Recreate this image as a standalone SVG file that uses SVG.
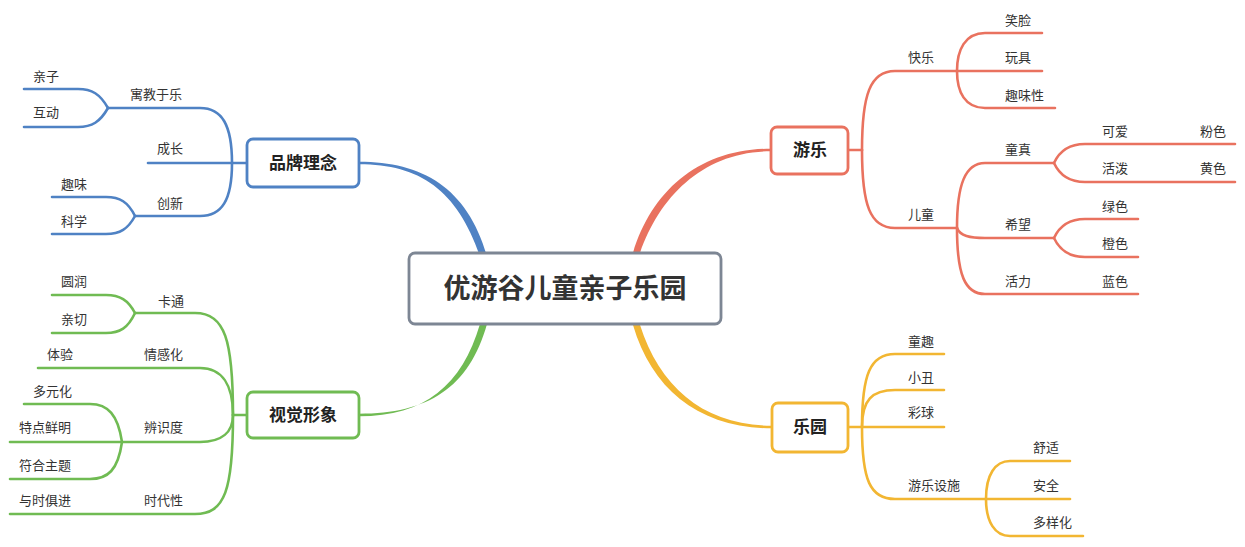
<svg xmlns="http://www.w3.org/2000/svg" width="1245" height="547" viewBox="0 0 1245 547">
<style>
.t{font-family:"Noto Sans CJK SC","Noto Sans",sans-serif;font-size:13px;fill:#333}
.nt{font-family:"Noto Sans CJK SC","Noto Sans",sans-serif;font-size:17px;font-weight:bold;fill:#222;text-anchor:middle}
.ct{font-family:"Noto Sans CJK SC","Noto Sans",sans-serif;font-size:27px;font-weight:bold;fill:#333;text-anchor:middle}
.l{fill:none;stroke-width:2.6;stroke-linecap:round}
.b{stroke:#4f82c4}.g{stroke:#70bb53}.r{stroke:#e9725f}.y{stroke:#f2b632}
.box{fill:#fff;stroke-width:2.8}
</style>
<rect width="1245" height="547" fill="#fff"/>
<g id="connectors">
<path d="M480,256 C457,190 420,164.3 359,164.3 L359,161.7 C422,161.7 467,187 487,256 Z" fill="#4f82c4"/>
<path d="M480,324 C462,385 425,416.3 359,416.3 L359,413.7 C428,413.7 469,388 487,324 Z" fill="#70bb53"/>
<path d="M633,253 C652,190 700,148.7 771,148.7 L771,151.3 C705,151.3 660,195 640,253 Z" fill="#e9725f"/>
<path d="M633,325 C652,390 700,428.3 772,428.3 L772,425.7 C705,425.7 660,388 640,325 Z" fill="#f2b632"/>
<g class="l b">
<path d="M247,163 H232"/>
<path d="M232,163 C232,125 222,108 200,108 H108"/>
<path d="M232,163 H148"/>
<path d="M232,163 C232,200 222,216 200,216 H135"/>
<path d="M108,108 C100,94 92,89 78,89 H24"/>
<path d="M108,108 C100,122 92,127 78,127 H24"/>
<path d="M135,216 C128,202 120,197 106,197 H52"/>
<path d="M135,216 C128,229 120,234 106,234 H52"/>
</g>
<g class="l g">
<path d="M247,415 H233"/>
<path d="M233,415 C233,340 225,313 195,313 H135"/>
<path d="M233,415 C233,385 222,368 200,368 H38"/>
<path d="M233,415 C233,432 222,442 200,442 H122"/>
<path d="M233,415 C233,490 225,514 195,514 H10"/>
<path d="M135,313 C128,300 120,295 106,295 H52"/>
<path d="M135,313 C128,328 120,333 106,333 H52"/>
<path d="M122,442 C118,415 108,404 90,404 H24"/>
<path d="M122,442 H10"/>
<path d="M122,442 C118,470 108,479 90,479 H10"/>
</g>
<g class="l r">
<path d="M848,150 H862"/>
<path d="M862,150 C862,95 870,71 895,71 H957"/>
<path d="M862,150 C862,205 870,228 895,228 H957"/>
<path d="M957,71 C957,50 965,33 985,33 H1042"/>
<path d="M957,71 H1042"/>
<path d="M957,71 C957,92 965,108 985,108 H1055"/>
<path d="M957,228 C957,185 965,163 985,163 H1054"/>
<path d="M957,228 C960,236 970,238 985,238 H1054"/>
<path d="M957,228 C957,275 965,294 985,294 H1138"/>
<path d="M1054,163 C1060,150 1070,144 1085,144 H1235"/>
<path d="M1054,163 C1060,176 1070,182 1085,182 H1235"/>
<path d="M1054,238 C1060,225 1070,219 1085,219 H1138"/>
<path d="M1054,238 C1060,251 1070,257 1085,257 H1138"/>
</g>
<g class="l y">
<path d="M848,427 H862"/>
<path d="M862,427 C862,375 870,354 895,354 H944"/>
<path d="M862,427 C862,400 872,390 895,390 H944"/>
<path d="M862,427 H944"/>
<path d="M862,427 C862,480 870,499 895,499 H986"/>
<path d="M986,499 C986,475 995,461 1010,461 H1070"/>
<path d="M986,499 H1070"/>
<path d="M986,499 C986,522 995,536 1010,536 H1083"/>
</g>
</g>
<g id="center"><rect x="409" y="253" width="312" height="71" rx="6" fill="#fff" stroke="#7d8694" stroke-width="2.8"/><text class="ct" x="565" y="298">优游谷儿童亲子乐园</text></g>
<g id="n-pinpai"><rect class="box b" x="247" y="139" width="112" height="48" rx="6"/><text class="nt" x="303" y="169">品牌理念</text></g>
<g id="n-shijue"><rect class="box g" x="247" y="392" width="112" height="46" rx="6"/><text class="nt" x="303" y="421">视觉形象</text></g>
<g id="n-youle"><rect class="box r" x="771" y="127" width="77" height="47" rx="6"/><text class="nt" x="810" y="156">游乐</text></g>
<g id="n-leyuan"><rect class="box y" x="772" y="403" width="76" height="49" rx="6"/><text class="nt" x="810" y="433">乐园</text></g>
<g id="labels-blue">
<text class="t" x="33" y="81">亲子</text>
<text class="t" x="33" y="117">互动</text>
<text class="t" x="130" y="99">寓教于乐</text>
<text class="t" x="157" y="153">成长</text>
<text class="t" x="61" y="189">趣味</text>
<text class="t" x="157" y="208">创新</text>
<text class="t" x="61" y="226">科学</text>
</g>
<g id="labels-green">
<text class="t" x="61" y="286">圆润</text>
<text class="t" x="158" y="306">卡通</text>
<text class="t" x="61" y="324">亲切</text>
<text class="t" x="47" y="359">体验</text>
<text class="t" x="144" y="359">情感化</text>
<text class="t" x="33" y="396">多元化</text>
<text class="t" x="19" y="432">特点鲜明</text>
<text class="t" x="144" y="432">辨识度</text>
<text class="t" x="19" y="470">符合主题</text>
<text class="t" x="19" y="505">与时俱进</text>
<text class="t" x="144" y="505">时代性</text>
</g>
<g id="labels-red">
<text class="t" x="908" y="62">快乐</text>
<text class="t" x="908" y="219">儿童</text>
<text class="t" x="1005" y="25">笑脸</text>
<text class="t" x="1005" y="62">玩具</text>
<text class="t" x="1005" y="100">趣味性</text>
<text class="t" x="1005" y="154">童真</text>
<text class="t" x="1005" y="229">希望</text>
<text class="t" x="1005" y="286">活力</text>
<text class="t" x="1102" y="136">可爱</text>
<text class="t" x="1102" y="173">活泼</text>
<text class="t" x="1102" y="211">绿色</text>
<text class="t" x="1102" y="248">橙色</text>
<text class="t" x="1102" y="286">蓝色</text>
<text class="t" x="1200" y="136">粉色</text>
<text class="t" x="1200" y="173">黄色</text>
</g>
<g id="labels-yellow">
<text class="t" x="908" y="346">童趣</text>
<text class="t" x="908" y="382">小丑</text>
<text class="t" x="908" y="417">彩球</text>
<text class="t" x="908" y="490">游乐设施</text>
<text class="t" x="1033" y="452">舒适</text>
<text class="t" x="1033" y="490">安全</text>
<text class="t" x="1033" y="527">多样化</text>
</g>
</svg>
